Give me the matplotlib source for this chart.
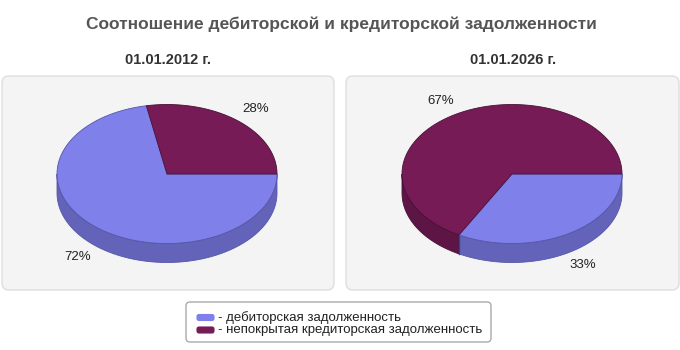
import numpy as np
import matplotlib
matplotlib.use("Agg")
import matplotlib.pyplot as plt
from matplotlib.patches import FancyBboxPatch, Polygon

plt.rcParams['font.family'] = ['Liberation Sans', 'DejaVu Sans']

title = "Соотношение дебиторской и кредиторской задолженности"
dates = ["01.01.2012 г.", "01.01.2026 г."]
series_names = ["- дебиторская задолженность",
                "- непокрытая кредиторская задолженность"]
debit = [72, 33]
credit = [28, 67]

top_colors = ["#7f80e9", "#761b56"]
side_colors = ["#6364b9", "#5c1544"]
edge_colors = ["#5556a8", "#4a1037"]

fig = plt.figure(figsize=(6.8, 3.5), dpi=100)
ax = fig.add_axes([0, 0, 1, 1])
ax.set_xlim(0, 680)
ax.set_ylim(350, 0)
ax.axis("off")

ax.text(341, 24, title, ha="center", va="center", fontsize=12.5,
        fontweight="bold", color="#555555")

panels = [(2, 76, 332, 214), (346, 76, 333, 214)]
centers = [(167, 174), (512, 174)]
rx, ry, depth = 110, 69.5, 19


def ell(cx, cy, t, dy=0):
    t = np.radians(t)
    return np.column_stack([cx + rx * np.cos(t), cy - ry * np.sin(t) + dy])


for k in range(2):
    px, py, pw, ph = panels[k]
    ax.add_patch(FancyBboxPatch((px, py), pw, ph,
                                boxstyle="round,pad=0,rounding_size=7",
                                fc="#f4f4f4", ec="#dedede", lw=1))
    ax.text(centers[k][0] + 1, 60, dates[k], ha="center", va="center",
            fontsize=10.5, fontweight="bold", color="#333333")

    cx, cy = centers[k]
    vals = [debit[k], credit[k]]
    total = sum(vals)
    # slices run clockwise from 3 o'clock
    spans = []
    start = 360.0
    for v in vals:
        end = start - 360.0 * v / total
        spans.append((end, start))
        start = end

    # side walls (front half only: 180..360 degrees)
    for i, (a1, a2) in enumerate(spans):
        lo, hi = max(a1, 180), min(a2, 360)
        if hi <= lo:
            continue
        t = np.linspace(lo, hi, 120)
        pts = np.vstack([ell(cx, cy, t), ell(cx, cy, t[::-1], depth)])
        ax.add_patch(Polygon(pts, closed=True, fc=side_colors[i],
                             ec=edge_colors[i], lw=0.6, zorder=2))
        if lo > 180:
            p = ell(cx, cy, [lo])[0]
            ax.plot([p[0], p[0]], [p[1], p[1] + depth], color="#3d3e8c",
                    lw=1, zorder=3)

    # top faces
    for i, (a1, a2) in enumerate(spans):
        t = np.linspace(a1, a2, 200)
        pts = np.vstack([[cx, cy], ell(cx, cy, t)])
        ax.add_patch(Polygon(pts, closed=True, fc=top_colors[i],
                             ec=edge_colors[i], lw=0.6, zorder=4))

    # percentage labels
    for i, (a1, a2) in enumerate(spans):
        m = np.radians((a1 + a2) / 2)
        lx = cx + 1.27 * rx * np.cos(m)
        ly = cy - 1.22 * ry * np.sin(m)
        if np.sin(m) < 0:
            ly += depth * 0.95
        ax.text(lx, ly, f"{vals[i]}%", ha="center", va="center",
                fontsize=9.5, color="#222222", zorder=5)

# legend
ax.add_patch(FancyBboxPatch((186, 302), 305, 40,
                            boxstyle="round,pad=0,rounding_size=4",
                            fc="white", ec="#aaaaaa", lw=1))
for i, name in enumerate(series_names):
    y = 317.5 + 12.5 * i
    ax.add_patch(FancyBboxPatch((197, y - 3), 17, 6,
                                boxstyle="round,pad=0,rounding_size=2",
                                fc=top_colors[i], ec=top_colors[i], lw=0.8))
    ax.text(218, y, name, ha="left", va="center", fontsize=9.5,
            color="#222222")

fig.savefig("out.png", dpi=100)
